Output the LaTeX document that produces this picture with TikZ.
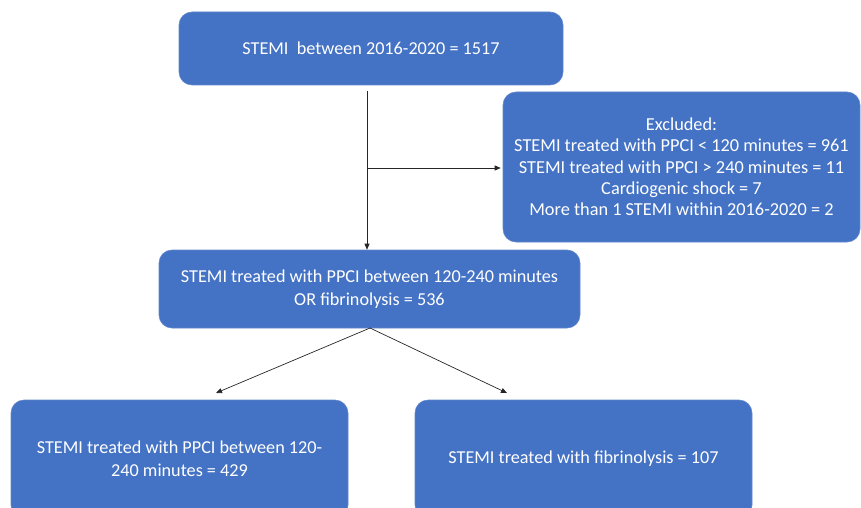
\documentclass[tikz,border=0pt]{standalone}
\usepackage{fontspec}
\setmainfont{Carlito}
\usetikzlibrary{arrows.meta}
\definecolor{boxblue}{HTML}{4472C4}
\tikzset{
  box/.style={fill=boxblue, draw=boxblue!85!white, line width=0.6pt, rounded corners=13pt, text=white,
    align=center, inner sep=0pt, font=\fontsize{18.2}{23}\selectfont},
  conn/.style={draw=black!85, line width=0.7pt, -{Triangle[length=6pt,width=5pt]}},
}
\begin{document}
\begin{tikzpicture}[x=1pt,y=-1pt]
\useasboundingbox (0,0) rectangle (861,508);
\clip (0,0) rectangle (861,508);
\node[box, minimum width=384pt, minimum height=73pt] (top) at (371,48.5) {STEMI\ \ between 2016-2020 = 1517};
\node[box, minimum width=357pt, minimum height=150pt, font=\fontsize{18.3}{21.3}\selectfont] (excl) at (681.5,167)
  {Excluded:\\STEMI treated with PPCI < 120 minutes = 961\\STEMI treated with PPCI > 240 minutes = 11\\Cardiogenic shock = 7\\More than 1 STEMI within 2016-2020 = 2};
\node[box, minimum width=421pt, minimum height=78pt] (mid) at (369.5,289)
  {STEMI treated with PPCI between 120-240 minutes\\OR fibrinolysis = 536};
\node[box, minimum width=337pt, minimum height=118pt] (bl) at (179.5,459)
  {STEMI treated with PPCI between 120-\\240 minutes = 429};
\node[box, minimum width=337pt, minimum height=118pt] (br) at (583.5,459)
  {STEMI treated with fibrinolysis = 107};
\coordinate (v0) at (367,91);
\coordinate (vb) at (367,168);
\coordinate (d0) at (370,328);
\coordinate (dl) at (216,393);
\coordinate (dr) at (507,393);
\draw[conn] (v0) -- (v0 |- mid.north);
\draw[conn] (vb) -- ([xshift=-2pt]excl.west |- vb);
\draw[conn] (d0) -- (dl);
\draw[conn] (d0) -- (dr);
\end{tikzpicture}
\end{document}
